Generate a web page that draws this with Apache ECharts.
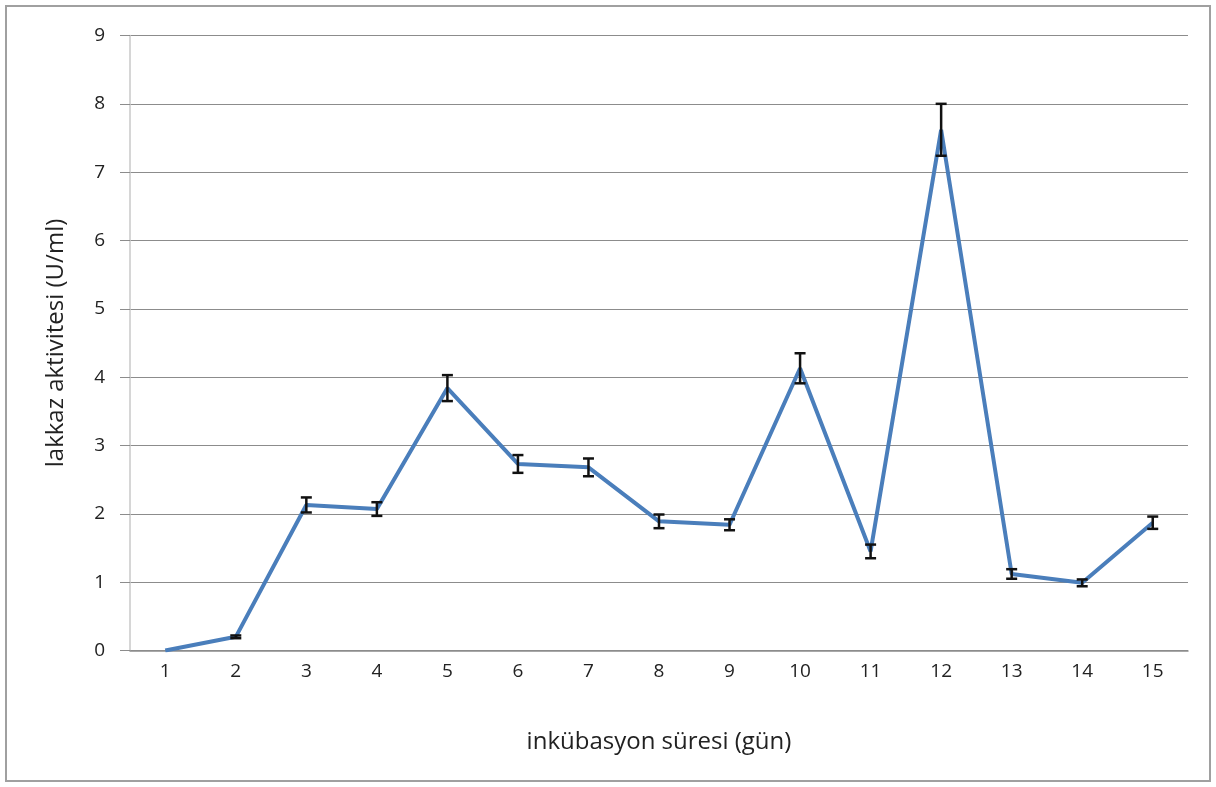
<!DOCTYPE html>
<html><head><meta charset="utf-8">
<script src="https://cdn.jsdelivr.net/npm/echarts@6/dist/echarts.min.js"></script>
<style>html,body{margin:0;padding:0;background:#fff}#c{width:1216px;height:787px}</style>
</head><body><div id="c"></div>
<script>
const categories = ['1','2','3','4','5','6','7','8','9','10','11','12','13','14','15'];
const values = [0, 0.2, 2.13, 2.07, 3.84, 2.73, 2.68, 1.89, 1.84, 4.13, 1.45, 7.62, 1.12, 0.99, 1.87];
const errors = [0, 0.02, 0.11, 0.1, 0.19, 0.13, 0.13, 0.1, 0.08, 0.22, 0.1, 0.38, 0.07, 0.05, 0.09];
const yTicks = [0,1,2,3,4,5,6,7,8,9];

const font = '"Open Sans", sans-serif';
const chart = echarts.init(document.getElementById('c'));
const errData = values.map((v,i)=>[i, v - errors[i], v + errors[i]]);
chart.setOption({
  animation:false,
  grid:{left:130,right:28,top:35.5,bottom:136.5,containLabel:false},
  graphic:[{type:'rect',shape:{x:6,y:6,width:1204,height:775},style:{fill:'none',stroke:'#a0a0a0',lineWidth:2},z:-1}],
  xAxis:{type:'category',data:categories,boundaryGap:true,
    name:'inkübasyon süresi (gün)',nameLocation:'middle',nameGap:80,
    nameTextStyle:{fontFamily:font,fontSize:24,color:'#222'},
    axisLine:{lineStyle:{color:'#8c8c8c',width:1.5}},axisTick:{show:false},
    axisLabel:{fontFamily:font,fontSize:19,color:'#222',margin:12}},
  yAxis:{type:'value',min:0,max:9,interval:1,
    name:'lakkaz aktivitesi (U/ml)',nameLocation:'middle',nameGap:62,
    nameTextStyle:{fontFamily:font,fontSize:24,color:'#222'},
    axisLine:{show:true,lineStyle:{color:'#c8c8c8',width:1.5}},
    axisTick:{show:true,length:10,lineStyle:{color:'#8c8c8c'}},
    splitLine:{lineStyle:{color:'#8c8c8c',width:1.2}},
    axisLabel:{fontFamily:font,fontSize:19,color:'#222',margin:25,
      formatter:v=>yTicks.includes(v)?String(v):''}},
  series:[
    {type:'line',data:values,symbol:'none',lineStyle:{color:'#4a7ebb',width:4},z:2},
    {type:'custom',data:errData,z:3,
      renderItem:(params,api)=>{
        const lo=api.coord([api.value(0),api.value(1)]);
        const hi=api.coord([api.value(0),api.value(2)]);
        const w=5.5, st={stroke:'#111',lineWidth:2.5};
        if(hi[1]===lo[1]) return {type:'group',children:[]};
        return {type:'group',children:[
          {type:'line',shape:{x1:hi[0],y1:hi[1],x2:lo[0],y2:lo[1]},style:st},
          {type:'line',shape:{x1:hi[0]-w,y1:hi[1],x2:hi[0]+w,y2:hi[1]},style:st},
          {type:'line',shape:{x1:lo[0]-w,y1:lo[1],x2:lo[0]+w,y2:lo[1]},style:st}
        ]};
      }}
  ]
});
</script></body></html>
